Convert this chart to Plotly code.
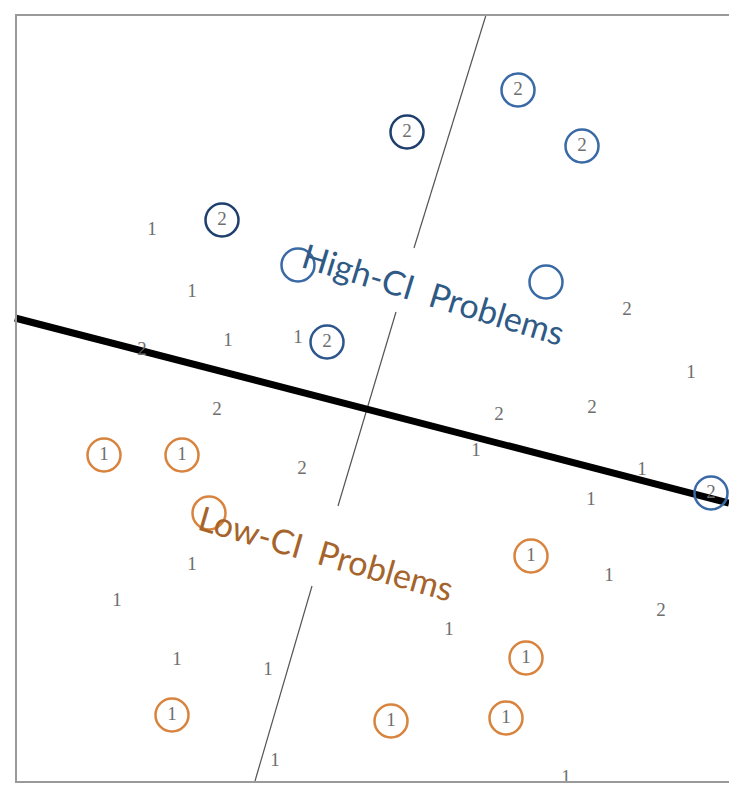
import plotly.graph_objects as go

# labelled points (pixel-space coordinates, y down)
pt_x = [152, 192, 228, 298, 142, 627, 691, 217, 499, 592, 476, 642, 591,
        302, 192, 117, 609, 661, 449, 177, 268, 275, 566]
pt_y = [230, 292, 341, 338, 350, 310, 373, 410, 415, 408, 451, 470, 500,
        469, 565, 601, 576, 611, 630, 660, 670, 761, 778]
pt_lab = ["1", "1", "1", "1", "2", "2", "1", "2", "2", "2", "1", "1", "1",
          "2", "1", "1", "1", "2", "1", "1", "1", "1", "1"]

# circled points: blue = high CI, orange = low CI
blue_x = [222, 407, 518, 582, 327, 711, 298, 546]
blue_y = [220, 132, 90, 146, 342, 493, 265, 282]
blue_lab = ["2", "2", "2", "2", "2", "2", "", ""]
blue_col = ["#1f3f6e", "#1f3f6e", "#3a6aa6", "#3a6aa6", "#2c568c",
            "#3a6aa6", "#3a6aa6", "#3a6aa6"]

orange_x = [104, 182, 531, 526, 172, 391, 506, 209]
orange_y = [455, 455, 556, 658, 715, 721, 718, 513]
orange_lab = ["1", "1", "1", "1", "1", "1", "1", ""]

# separating lines
thin_x = [486, 414, None, 396, 338, None, 312, 255]
thin_y = [15, 248, None, 312, 506, None, 586, 781]
thick_x = [15, 729]
thick_y = [318, 503]

fig = go.Figure()

fig.add_trace(go.Scatter(x=thin_x, y=thin_y, mode="lines",
                         line=dict(color="#555555", width=1.2),
                         hoverinfo="skip"))
fig.add_trace(go.Scatter(x=thick_x, y=thick_y, mode="lines",
                         line=dict(color="black", width=7),
                         hoverinfo="skip"))

num_font = dict(family="Liberation Serif", size=19, color="#6e6e6e")

fig.add_trace(go.Scatter(x=pt_x, y=pt_y, mode="text", text=pt_lab,
                         textposition="middle center", textfont=num_font))

fig.add_trace(go.Scatter(
    x=blue_x, y=blue_y, mode="markers+text", text=blue_lab,
    textposition="middle center", textfont=num_font,
    marker=dict(symbol="circle-open", size=33, color=blue_col,
                line=dict(width=2.5)),
))
fig.add_trace(go.Scatter(
    x=orange_x, y=orange_y, mode="markers+text", text=orange_lab,
    textposition="middle center", textfont=num_font,
    marker=dict(symbol="circle-open", size=33, color="#d9843e",
                line=dict(width=2.5)),
))

fig.add_annotation(x=434, y=293, text="High-CI  Problems", showarrow=False,
                   textangle=17,
                   font=dict(family="Lato", size=34, color="#2f5a85"))
fig.add_annotation(x=326, y=552, text="Low-CI  Problems", showarrow=False,
                   textangle=16,
                   font=dict(family="Lato", size=34, color="#a5642c"))

# grey frame
frame = dict(color="#9a9a9a", width=2)
fig.add_shape(type="line", x0=15, x1=729, y0=15, y1=15, line=frame)
fig.add_shape(type="line", x0=16, x1=16, y0=15, y1=782, line=frame)
fig.add_shape(type="line", x0=15, x1=729, y0=782, y1=782, line=frame)

fig.update_layout(
    width=729, height=786,
    margin=dict(l=0, r=0, t=0, b=0),
    xaxis=dict(range=[0, 729], visible=False, fixedrange=True),
    yaxis=dict(range=[786, 0], visible=False, fixedrange=True),
    plot_bgcolor="white", paper_bgcolor="white",
    showlegend=False,
)

# drop the default page margin so the figure fills the window exactly
fig.write_html(
    "out.html",
    config=dict(displayModeBar=False),
    post_script="document.body.style.margin='0';"
                "document.body.style.overflow='hidden';",
)
